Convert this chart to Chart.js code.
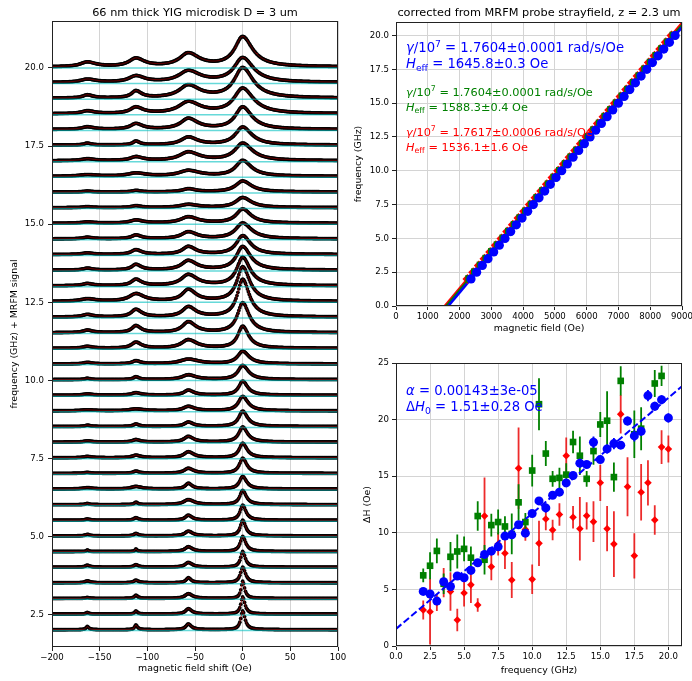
<!DOCTYPE html>
<html><head><meta charset="utf-8">
<script src="https://cdn.jsdelivr.net/npm/chart.js@4.4.1/dist/chart.umd.min.js"></script>
<style>
html,body{margin:0;padding:0;background:#fff;}
#wrap{position:relative;width:692px;height:681px;overflow:hidden;background:#fff;}
canvas{position:absolute;display:block;}
</style></head><body>
<div id="wrap">
<canvas id="c1" width="346" height="681" style="left:0;top:0"></canvas>
<canvas id="c2" width="346" height="340" style="left:346px;top:0"></canvas>
<canvas id="c3" width="346" height="341" style="left:346px;top:340px"></canvas>
</div>
<script>
// ---------------- DATA ----------------
const freqs = [2.0,2.5,3.0,3.5,4.0,4.5,5.0,5.5,6.0,6.5,7.0,7.5,8.0,8.5,9.0,9.5,10.0,10.5,11.0,11.5,12.0,12.5,13.0,13.5,14.0,14.5,15.0,15.5,16.0,16.5,17.0,17.5,18.0,18.5,19.0,19.5,20.0];

// spectra (left panel): peak amplitudes read per trace (GHz-units of offset)
const modePos  = [0, -57, -112, -163];
const mainAmp  = [0.6,0.55,0.55,0.5,0.5,0.48,0.5,0.48,0.45,0.4,0.48,0.46,0.48,0.49,0.46,0.45,0.45,0.4,0.7,0.95,1.2,1.1,0.9,0.75,0.6,0.5,0.45,0.32,0.35,0.5,0.55,0.57,0.71,0.8,0.96,0.78,0.95];
const mode1Amp = [0.18,0.17,0.15,0.16,0.15,0.15,0.15,0.16,0.16,0.18,0.16,0.19,0.18,0.14,0.14,0.16,0.15,0.15,0.27,0.34,0.32,0.37,0.35,0.3,0.25,0.22,0.2,0.1,0.1,0.18,0.27,0.25,0.34,0.37,0.4,0.36,0.42];
const mode2Amp = [0.15,0.1,0.1,0.08,0.08,0.08,0.08,0.08,0.08,0.08,0.07,0.08,0.08,0.08,0.06,0.08,0.09,0.1,0.19,0.22,0.24,0.24,0.2,0.18,0.15,0.12,0.1,0.06,0.05,0.1,0.12,0.12,0.18,0.2,0.22,0.2,0.26];
const mode3Amp = [0.1,0.05,0.03,0.06,0.06,0.05,0.05,0.04,0.04,0.04,0.03,0.04,0.04,0.04,0.03,0.04,0.04,0.05,0.06,0.08,0.08,0.08,0.07,0.06,0.05,0.05,0.04,0.03,0.03,0.05,0.06,0.06,0.08,0.09,0.1,0.1,0.15];
const dataOffset = 0.03;

// resonance fields (top right), Oe
const Hred   = [2249,2428,2606,2784,2963,3141,3319,3498,3676,3854,4033,4211,4389,4568,4746,4924,5103,5281,5459,5638,5816,5994,6173,6351,6529,6708,6886,7064,7243,7421,7599,7778,7956,8134,8313,8491,8669];
const Hgreen = [2302,2481,2659,2838,3016,3195,3373,3551,3730,3908,4087,4265,4444,4622,4801,4979,5157,5336,5514,5693,5871,6050,6228,6407,6585,6764,6942,7121,7299,7478,7656,7834,8013,8191,8370,8548,8727];
const Hblue  = [2360,2538,2717,2895,3074,3252,3430,3609,3787,3966,4144,4323,4501,4680,4858,5037,5215,5393,5572,5750,5929,6107,6286,6464,6643,6821,7000,7178,7357,7535,7713,7892,8070,8249,8427,8606,8784];
const fitGamma = [1.7617, 1.7604, 1.7604];   // red, green, blue (x1e7 rad/s/Oe)
const fitHeff  = [1536.1, 1588.3, 1645.8];   // red, green, blue (Oe)
const fitFreqRange = [0, 21];

// linewidths (bottom right), Oe
const blueDH  = [4.82,4.59,3.97,5.68,5.26,6.18,6.03,6.68,7.35,8.09,8.38,8.76,9.71,9.82,10.71,9.97,11.7,12.82,12.2,13.32,13.59,14.41,15.06,16.15,16.03,18.0,16.47,17.41,17.88,17.74,19.88,18.56,18.97,22.12,21.18,21.76,20.15];
const blueErr = [0.3,0.3,0.3,0.3,0.3,0.3,0.3,0.3,0.3,0.3,0.3,0.3,0.3,0.3,0.3,0.3,0.3,0.3,0.4,0.3,0.3,0.3,0.3,0.4,0.3,0.5,0.3,0.4,0.5,0.3,0.4,0.5,0.4,0.5,0.4,0.4,0.4];
const greenDH  = [6.24,7.09,8.4,5.5,7.88,8.35,8.58,7.8,11.48,7.62,10.68,10.95,10.56,9.9,12.69,10.95,15.5,21.36,17.0,14.77,14.85,15.14,18.02,16.81,14.77,17.22,19.57,19.9,14.92,23.42,null,18.7,19.2,null,23.19,23.86,null];
const greenErr = [0.6,1.2,1.1,0.9,1.3,1.5,1.1,1.0,1.3,1.3,1.0,1.1,0.9,1.8,1.6,0.8,1.4,2.3,1.1,0.7,0.9,1.0,1.0,1.7,0.7,1.2,1.1,2.6,1.3,1.3,null,2.1,1.9,null,1.2,0.9,null];
const redDH  = [3.18,3.03,3.85,5.6,4.82,2.3,4.68,5.4,3.62,11.48,7.0,9.0,8.2,5.83,15.7,10.3,5.89,9.07,11.22,10.25,11.62,16.81,11.37,10.36,11.5,10.98,14.42,10.36,9.0,20.48,14.07,7.97,13.58,14.42,11.13,17.57,17.4];
const redErr = [0.85,2.9,0.75,1.3,1.7,1.0,1.2,1.6,0.6,3.4,1.2,1.0,1.4,1.6,3.6,1.0,1.3,2.0,1.0,0.9,1.0,1.6,1.0,2.8,1.2,1.8,1.6,2.0,2.9,1.7,2.6,2.0,2.5,2.0,1.3,1.5,1.2];
const dampAlpha = 0.00143, dH0 = 1.51;

// tick labels
const leftXTicks = [-200,-150,-100,-50,0,50,100];
// ---------------- END DATA ----------------

Chart.defaults.font.family = "'DejaVu Sans', sans-serif";
Chart.defaults.color = '#000';
Chart.defaults.animation = false;
Chart.defaults.plugins.legend.display = false;
Chart.defaults.plugins.tooltip.enabled = false;

const FONT = "'DejaVu Sans', sans-serif";
const minus = v => (v < 0 ? '\u2212' + Math.abs(v) : String(v));

function axis(o) {
  return {
    type: 'linear', position: o.pos, min: o.min, max: o.max,
    border: { display: false },
    grid: { display: true, color: o.grid ? '#d4d4d4' : 'rgba(0,0,0,0)', lineWidth: 1,
            drawTicks: true, tickLength: 4, tickColor: '#222', tickWidth: 1 },
    ticks: { stepSize: o.step, includeBounds: false, autoSkip: false, maxRotation: 0, minRotation: 0,
             font: { size: 8.6, family: FONT }, color: '#000', padding: o.pad, callback: o.fmt },
    afterFit(s) {
      if (o.pos === 'left') s.width = o.size; else s.height = o.size;
      s.paddingLeft = 0; s.paddingRight = 0; s.paddingTop = 0; s.paddingBottom = 0;
    }
  };
}

function rich(ctx, x, y, segs, size, color) {
  let cx = x;
  ctx.textAlign = 'left'; ctx.textBaseline = 'alphabetic'; ctx.fillStyle = color;
  for (const s of segs) {
    let fs = size, dy = 0;
    if (s.sup) { fs = size * 0.7; dy = -size * 0.4; }
    if (s.sub) { fs = size * 0.7; dy = size * 0.2; }
    ctx.font = (s.it ? 'italic ' : '') + fs + 'px ' + FONT;
    ctx.fillText(s.t, cx, y + dy);
    cx += ctx.measureText(s.t).width;
  }
}

function deco(spec) {
  return {
    id: 'deco',
    afterDraw(chart) {
      const ctx = chart.ctx, a = chart.chartArea;
      ctx.save();
      ctx.strokeStyle = '#222'; ctx.lineWidth = 1;
      ctx.strokeRect(a.left + 0.5, a.top + 0.5, a.right - a.left - 1, a.bottom - a.top - 1);
      ctx.fillStyle = '#000'; ctx.textAlign = 'center'; ctx.textBaseline = 'middle';
      ctx.font = '11.3px ' + FONT;
      ctx.fillText(spec.title, (a.left + a.right) / 2, spec.titleY);
      ctx.font = '9.4px ' + FONT;
      ctx.fillText(spec.xlabel, (a.left + a.right) / 2, spec.xlabelY);
      ctx.save();
      ctx.translate(spec.ylabelX, (a.top + a.bottom) / 2);
      ctx.rotate(-Math.PI / 2);
      ctx.fillText(spec.ylabel, 0, 0);
      ctx.restore();
      (spec.notes || []).forEach(n => rich(ctx, n.x, n.y, n.segs, n.size, n.color));
      ctx.restore();
    }
  };
}

// ---------- Chart 1: spectra waterfall ----------
const specX = [];
for (let x = -200; x <= 100; x += 1) specX.push(x);
const ASYM = 1.25;
function lor(x, x0, w, a) {
  const hw = (x > x0 ? w * ASYM : w) / 2;
  const d = (x - x0) / hw;
  return a / (1 + d * d);
}
const blackPts = [], fitPts = [], basePts = [];
freqs.forEach((f, i) => {
  const amps = [mainAmp[i], mode1Amp[i], mode2Amp[i], mode3Amp[i]];
  const widths = [blueDH[i], greenDH[i] != null ? greenDH[i] : blueDH[i] * 1.1, redDH[i], redDH[i]];
  for (const x of specX) {
    let y = f + dataOffset;
    for (let k = 0; k < 4; k++) y += lor(x, modePos[k], widths[k], amps[k]);
    blackPts.push({ x, y });
    fitPts.push({ x, y });
  }
  fitPts.push({ x: 100, y: null });
  basePts.push({ x: -200, y: f }, { x: 100, y: f }, { x: 100, y: null });
});

new Chart(document.getElementById('c1'), {
  type: 'scatter',
  data: { datasets: [
    { data: fitPts, showLine: true, borderColor: 'rgba(200,0,0,0.6)', borderWidth: 0.9, pointRadius: 0, spanGaps: false, order: 0 },
    { data: basePts, showLine: true, borderColor: 'rgba(0,191,191,0.6)', borderWidth: 1.5, pointRadius: 0, spanGaps: false, order: 1 },
    { data: blackPts, showLine: false, pointRadius: 1.9, pointBorderWidth: 0, pointBackgroundColor: '#000', order: 2 }
  ]},
  options: {
    responsive: false, animation: false,
    layout: { padding: { left: 0, right: 8, top: 21, bottom: 0 } },
    scales: {
      x: axis({ pos: 'bottom', min: leftXTicks[0], max: leftXTicks[leftXTicks.length - 1], step: 50, fmt: v => minus(v), size: 34, grid: true, pad: 2 }),
      y: axis({ pos: 'left', min: 1.475, max: 21.5, step: 2.5, fmt: v => v.toFixed(1), size: 52, grid: false, pad: 4 })
    }
  },
  plugins: [deco({ title: '66 nm thick YIG microdisk D = 3 um', titleY: 13,
    xlabel: 'magnetic field shift (Oe)', xlabelY: 669, ylabel: 'frequency (GHz) + MRFM signal', ylabelX: 15 })]
});

// ---------- Chart 2: dispersion ----------
const cols = ['#ff0000', '#008000', '#0000ff'];
const fitLines = fitGamma.map((g, k) => fitFreqRange.map(f => ({ x: fitHeff[k] + 2 * Math.PI * 100 * f / g, y: f })));
const mk = (H) => H.map((h, i) => ({ x: h, y: freqs[i] }));

new Chart(document.getElementById('c2'), {
  type: 'scatter',
  data: { datasets: [
    { data: mk(Hblue), pointStyle: 'circle', pointRadius: 4.6, pointBorderWidth: 0, pointBackgroundColor: cols[2], order: 0 },
    { data: mk(Hgreen), pointStyle: 'rect', pointRadius: 5.4, pointBorderWidth: 0, pointBackgroundColor: cols[1], order: 1 },
    { data: mk(Hred), pointStyle: 'rectRot', pointRadius: 5, pointBorderWidth: 0, pointBackgroundColor: cols[0], order: 2 },
    { data: fitLines[2], showLine: true, borderColor: cols[2], borderWidth: 2.6, pointRadius: 0, order: 3 },
    { data: fitLines[1], showLine: true, borderColor: cols[1], borderWidth: 2.6, pointRadius: 0, order: 4 },
    { data: fitLines[0], showLine: true, borderColor: cols[0], borderWidth: 2.6, pointRadius: 0, order: 5 }
  ]},
  options: {
    responsive: false, animation: false,
    layout: { padding: { left: 0, right: 10, top: 22, bottom: 0 } },
    scales: {
      x: axis({ pos: 'bottom', min: 0, max: 9000, step: 1000, fmt: v => String(v), size: 34, grid: true, pad: 2 }),
      y: axis({ pos: 'left', min: 0, max: 21, step: 2.5, fmt: v => v.toFixed(1), size: 50, grid: true, pad: 3 })
    }
  },
  plugins: [deco({ title: 'corrected from MRFM probe strayfield, z = 2.3 um', titleY: 13,
    xlabel: 'magnetic field (Oe)', xlabelY: 329, ylabel: 'frequency (GHz)', ylabelX: 13,
    notes: [
      { x: 60, y: 52, size: 13.2, color: '#0000ff', segs: [{ t: 'γ', it: true }, { t: '/10' }, { t: '7', sup: true }, { t: ' = 1.7604±0.0001 rad/s/Oe' }] },
      { x: 60, y: 68, size: 13.2, color: '#0000ff', segs: [{ t: 'H', it: true }, { t: 'eff', sub: true }, { t: ' = 1645.8±0.3 Oe' }] },
      { x: 60, y: 95.5, size: 11.3, color: '#008000', segs: [{ t: 'γ', it: true }, { t: '/10' }, { t: '7', sup: true }, { t: ' = 1.7604±0.0001 rad/s/Oe' }] },
      { x: 60, y: 111, size: 11.3, color: '#008000', segs: [{ t: 'H', it: true }, { t: 'eff', sub: true }, { t: ' = 1588.3±0.4 Oe' }] },
      { x: 60, y: 136, size: 11.3, color: '#ff0000', segs: [{ t: 'γ', it: true }, { t: '/10' }, { t: '7', sup: true }, { t: ' = 1.7617±0.0006 rad/s/Oe' }] },
      { x: 60, y: 151, size: 11.3, color: '#ff0000', segs: [{ t: 'H', it: true }, { t: 'eff', sub: true }, { t: ' = 1536.1±1.6 Oe' }] }
    ] })]
});

// ---------- Chart 3: linewidth ----------
function bars(vals, errs) {
  const out = [];
  freqs.forEach((f, i) => {
    if (vals[i] == null) return;
    out.push({ x: f, y: vals[i] - errs[i] }, { x: f, y: vals[i] + errs[i] }, { x: f, y: null });
  });
  return out;
}
function pts(vals) {
  const out = [];
  freqs.forEach((f, i) => { if (vals[i] != null) out.push({ x: f, y: vals[i] }); });
  return out;
}
const slope = 2 * dampAlpha * 2 * Math.PI * 100 / fitGamma[2];
const dampLine = fitFreqRange.map(f => ({ x: f, y: dH0 + slope * f }));

new Chart(document.getElementById('c3'), {
  type: 'scatter',
  data: { datasets: [
    { data: dampLine, showLine: true, borderColor: '#0000ff', borderWidth: 2, borderDash: [7, 3], pointRadius: 0, order: 0 },
    { data: pts(blueDH), pointStyle: 'circle', pointRadius: 4.5, pointBorderWidth: 0, pointBackgroundColor: '#0000ff', order: 1 },
    { data: bars(blueDH, blueErr), showLine: true, borderColor: '#0000ff', borderWidth: 1.8, pointRadius: 0, spanGaps: false, order: 2 },
    { data: pts(greenDH), pointStyle: 'rect', pointRadius: 4.7, pointBorderWidth: 0, pointBackgroundColor: '#008000', order: 3 },
    { data: bars(greenDH, greenErr), showLine: true, borderColor: '#008000', borderWidth: 1.8, pointRadius: 0, spanGaps: false, order: 4 },
    { data: pts(redDH), pointStyle: 'rectRot', pointRadius: 3.8, pointBorderWidth: 0, pointBackgroundColor: '#ff0000', order: 5 },
    { data: bars(redDH, redErr), showLine: true, borderColor: 'rgba(235,20,20,0.9)', borderWidth: 1.8, pointRadius: 0, spanGaps: false, order: 6 }
  ]},
  options: {
    responsive: false, animation: false,
    layout: { padding: { left: 0, right: 10, top: 23, bottom: 0 } },
    scales: {
      x: axis({ pos: 'bottom', min: 0, max: 21, step: 2.5, fmt: v => v.toFixed(1), size: 35, grid: true, pad: 2 }),
      y: axis({ pos: 'left', min: 0, max: 25, step: 5, fmt: v => String(v), size: 50, grid: true, pad: 3 })
    }
  },
  plugins: [deco({ title: '', titleY: 10,
    xlabel: 'frequency (GHz)', xlabelY: 331, ylabel: 'ΔH (Oe)', ylabelX: 22,
    notes: [
      { x: 60, y: 55, size: 13.2, color: '#0000ff', segs: [{ t: 'α', it: true }, { t: ' = 0.00143±3e-05' }] },
      { x: 60, y: 71, size: 13.2, color: '#0000ff', segs: [{ t: 'Δ' }, { t: 'H', it: true }, { t: '0', sub: true }, { t: ' = 1.51±0.28 Oe' }] }
    ] })]
});
</script>
</body></html>
